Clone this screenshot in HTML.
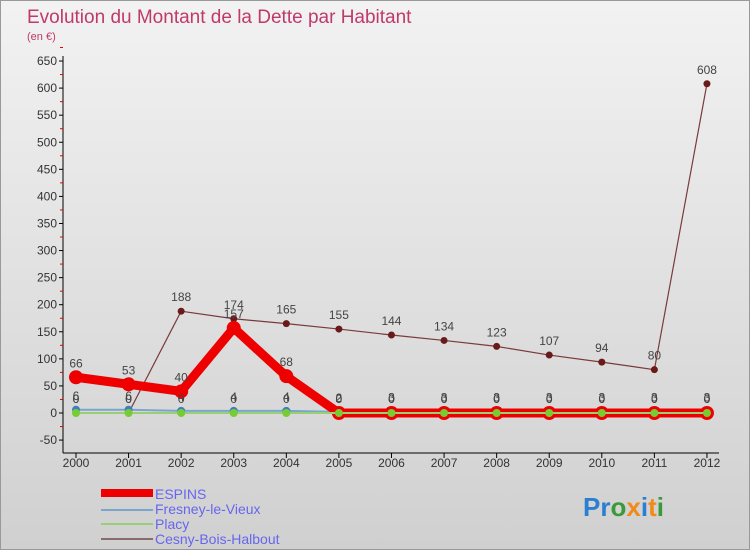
<!DOCTYPE html>
<html><head><meta charset="utf-8"><style>
body{margin:0}
#wrap{width:748px;height:548px;border:1px solid #999;background:linear-gradient(#f2f2f2,#d0d0d0);position:relative;font-family:"Liberation Sans",sans-serif;overflow:hidden}
</style></head><body>
<div id="wrap">
<svg id="c" width="748" height="548" xmlns="http://www.w3.org/2000/svg">
<text x="26" y="22" font-size="19" fill="#c0396b">Evolution du Montant de la Dette par Habitant</text>
<text x="26" y="39" font-size="11" fill="#c0396b">(en €)</text>
<g id="axes"></g><g id="series"></g>
<g>
<rect x="100" y="488" width="52" height="8" fill="#e00"/>
<text x="154" y="498" font-size="14" fill="#6666ee">ESPINS</text>
<rect x="100" y="508" width="52" height="2" fill="#7aa6cc"/>
<text x="154" y="513" font-size="14" fill="#6666ee">Fresney-le-Vieux</text>
<rect x="100" y="522" width="52" height="2" fill="#99d077"/>
<text x="154" y="528" font-size="14" fill="#6666ee">Placy</text>
<rect x="100" y="537" width="52" height="2" fill="#8a6a6a"/>
<text x="154" y="543" font-size="14" fill="#6666ee">Cesny-Bois-Halbout</text>
</g>
<text x="582" y="515" font-size="26" font-weight="bold"><tspan fill="#2a7fd0">Pr</tspan><tspan fill="#3a9a3a">o</tspan><tspan fill="#f28a1a">x</tspan><tspan fill="#2a7fd0">i</tspan><tspan fill="#f28a1a">t</tspan><tspan fill="#3a9a3a">i</tspan></text>
</svg></div>
<script>
const years=[2000,2001,2002,2003,2004,2005,2006,2007,2008,2009,2010,2011,2012];
const espins=[66,53,40,157,68,0,0,0,0,0,0,0,0];
const fresney=[6,6,4,4,4,2,3,3,3,3,3,3,3];
const placy=[0,0,0,0,0,0,0,0,0,0,0,0,0];
const cesny=[0,0,188,174,165,155,144,134,123,107,94,80,608];
const yTicks=[-50,0,50,100,150,200,250,300,350,400,450,500,550,600,650];
const NS="http://www.w3.org/2000/svg";
const X=i=>75+i*52.58, Y=v=>412-v*0.5415;
function mk(t,a,p){const e=document.createElementNS(NS,t);for(const k in a)e.setAttribute(k,a[k]);(p||document.getElementById('series')).appendChild(e);return e;}
const ax=document.getElementById('axes');
let a=mk('line',{x1:62,y1:55,x2:62,y2:452,stroke:'#000'},ax);


a=mk('line',{x1:62,y1:452,x2:718,y2:452,stroke:'#000'},ax);


yTicks.forEach(v=>{
 mk('line',{x1:58,x2:62,y1:Y(v),y2:Y(v),stroke:'#000'},ax);
 mk('line',{x1:59,x2:62,y1:Y(v+25),y2:Y(v+25),stroke:'#e00'},ax);
 const t=mk('text',{x:56,y:Y(v)+4,'font-size':12,'text-anchor':'end',fill:'#333'},ax);t.textContent=v;
 
 
});
years.forEach((y,i)=>{
 mk('line',{x1:X(i),x2:X(i),y1:452,y2:457,stroke:'#000'},ax);
 const t=mk('text',{x:X(i),y:466,'font-size':12,'text-anchor':'middle',fill:'#333'},ax);t.textContent=y;
 
 
});
function series(d,name,col,w,r,dot,stroke){
 const g=mk('g',{});
 
 
 mk('polyline',{points:d.map((v,i)=>X(i)+','+Y(v)).join(' '),fill:'none',stroke:col,'stroke-width':w,'stroke-linejoin':'round'},g);
 d.forEach((v,i)=>{
  const c=mk('circle',{cx:X(i),cy:Y(v),r:r,fill:dot,stroke:stroke||'none','stroke-width':2},g);
  
  
  const t=mk('text',{x:X(i),y:Y(v)-10,'font-size':12,'text-anchor':'middle',fill:'#444'},g);t.textContent=v;
 });
}
series(cesny,'cesny','#7a3a3a',1.2,3.5,'#6a1a1a');
series(fresney,'fresney','#7aa6cc',2,4,'#3a7fc0');
series(espins,'espins','#ee0000',9,7,'#ee0000');
series(placy,'placy','#99d077',2,4,'#77cc33');
</script>
</body></html>
